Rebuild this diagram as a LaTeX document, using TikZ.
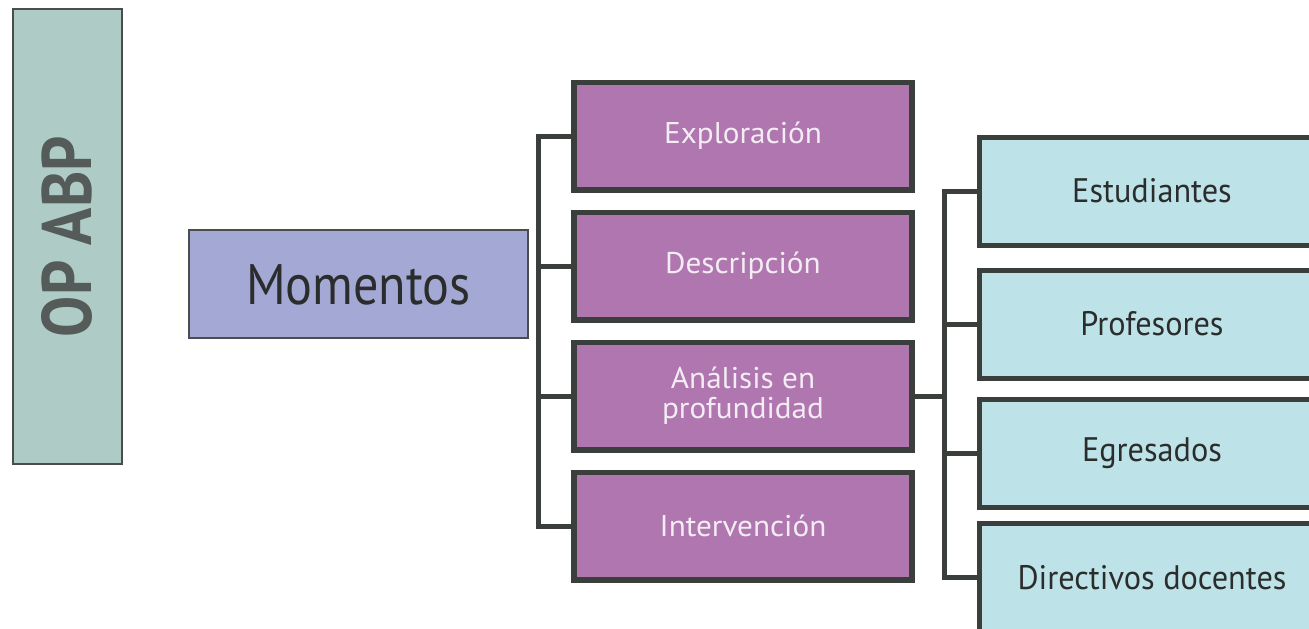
\documentclass[tikz,border=0pt]{standalone}
\usepackage{fontspec}
\setmainfont{PT Sans}[FakeStretch=0.88]
\newfontfamily\pasofont{PT Sans}[FakeStretch=1.04]
\newfontfamily\actorfont{PT Sans}[FakeStretch=0.95]
\definecolor{opfill}{HTML}{AECBC5}
\definecolor{opline}{HTML}{4A4D4C}
\definecolor{optext}{HTML}{555B59}
\definecolor{momfill}{HTML}{A3A8D4}
\definecolor{pasofill}{HTML}{AF76AF}
\definecolor{pasotext}{HTML}{F3EDF3}
\definecolor{actorfill}{HTML}{BDE3E9}
\definecolor{boxline}{HTML}{3B3F3C}
\definecolor{darktext}{HTML}{2B2D2C}

\begin{document}
\begin{tikzpicture}[x=1pt, y=-1pt, node distance=130pt,
    op/.style={draw=opline, fill=opfill, line width=2pt, minimum width=109pt,
      minimum height=454.5pt, inner sep=0pt},
    momento/.style={draw=opline, fill=momfill, line width=2pt, minimum width=339pt,
      minimum height=108pt, text=darktext, font=\fontsize{57}{57}\selectfont},
    paso/.style={draw=boxline, fill=pasofill, line width=5.5pt, minimum width=338pt,
      minimum height=107.5pt, text=pasotext, align=center,
      font=\pasofont\fontsize{30}{30}\selectfont},
    actor/.style={draw=boxline, fill=actorfill, line width=5pt, minimum width=345pt,
      minimum height=108pt, text=darktext, font=\actorfont\fontsize{34}{34}\selectfont},
    link/.style={draw=boxline, line width=5pt}]
    \clip (0,0) rectangle (1309,629);
    \fill[white] (0,0) rectangle (1309,629);

    %the title column and the main box
    \node[op] (op) at (67,236.7) {};
    \node[rotate=90, text=optext, font=\bfseries\fontsize{70}{70}\selectfont] (optitle) at (op.center) {OP ABP};
    \node[momento] (mom) at (358.5,284.4) {Momentos};

    %define the moments
    \node[paso] (expl) at (743,136) {Exploración};
    \node[paso] (desc) [below of=expl] {Descripción};
    \node[paso] (anal) [below of=desc] {Análisis en\\profundidad};
    \node[paso] (interv) [below of=anal] {Intervención};

    %define the actors
    \node[actor] (est) at (1152,191) {Estudiantes};
    \node[actor] (prof) at (1152,324) {Profesores};
    \node[actor] (egr) at (1152,453) {Egresados};
    \node[actor] (dir) at (1152,577.5) {Directivos docentes};

    %define the links
    \coordinate (lbus) at (538,0);
    \coordinate (rbus) at (944,0);
    \draw[link] (expl.west) -- (expl.west -| lbus) -- (interv.west -| lbus) -- (interv.west);
    \foreach \m in {desc, anal}
      \draw[link] (\m.west) -- (\m.west -| lbus);
    \draw[link] (est.west) -- (est.west -| rbus) -- (dir.west -| rbus) -- (dir.west);
    \foreach \a in {prof, egr}
      \draw[link] (\a.west) -- (\a.west -| rbus);
    \draw[link] (anal.east) -- ([xshift=2.5pt]anal.east -| rbus);
\end{tikzpicture}
\end{document}
